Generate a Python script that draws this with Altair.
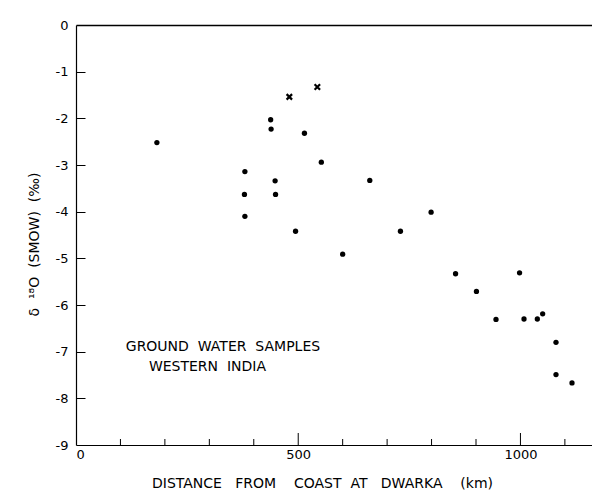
import altair as alt
import pandas as pd

# Groundwater samples (dots)
dist_dots = [182, 438, 439, 514, 380, 448, 379, 449, 380, 494, 552, 661, 799, 730,
             600, 854, 998, 901, 945, 1008, 1038, 1050, 1080, 1080, 1116]
d18o_dots = [-2.52, -2.03, -2.23, -2.32, -3.14, -3.34, -3.63, -3.63, -4.10, -4.42,
             -2.94, -3.33, -4.01, -4.42, -4.91, -5.33, -5.31, -5.71, -6.31, -6.30,
             -6.30, -6.19, -6.80, -7.49, -7.67]
# Crosses
dist_x = [480, 543]
d18o_x = [-1.54, -1.33]

x_minor_ticks = [100, 200, 300, 400, 600, 700, 800, 900, 1100]
x_major_ticks = [500, 1000]
x_labels = [0, 500, 1000]
y_ticks = [-8, -7, -6, -5, -4, -3, -2, -1]
y_labels = [0, -1, -2, -3, -4, -5, -6, -7, -8, -9]

S = "\u00a0"
note_lines = ["GROUND" + S + S + "WATER" + S + S + "SAMPLES", "WESTERN" + S + S + "INDIA"]
note_x = [112, 164]
note_y = [-6.90, -7.32]

X_TITLE = ("DISTANCE" + S * 3 + "FROM" + S * 4 + "COAST" + S * 2 + "AT" + S * 3
           + "DWARKA" + S * 4 + "(km)")
Y_TITLE = "\u03b4" + S * 2 + "\u00b9\u2078O" + S * 2 + "(SMOW)" + S * 2 + "(\u2030)"

FONT = "DejaVu Sans"
W, H = 516, 420
XMAX = 1161

xscale = alt.Scale(domain=[0, XMAX], nice=False, zero=False)
yscale = alt.Scale(domain=[-9, 0], nice=False, zero=False)

dots = pd.DataFrame({"d": dist_dots, "v": d18o_dots})
crosses = pd.DataFrame({"d": dist_x, "v": d18o_x})

base_x = alt.X("d:Q", scale=xscale,
               axis=alt.Axis(values=x_labels, format="d", tickSize=0, grid=False, labelPadding=3,
                             labelFont=FONT, labelFontSize=13, labelColor="black",
                             domainColor="black", domainWidth=1.2,
                             title=X_TITLE,
                             titleFont=FONT, titleFontSize=14, titleFontWeight="normal",
                             titleColor="black", titlePadding=15,
                             titleX=246, titleAlign="center"))
base_y = alt.Y("v:Q", scale=yscale,
               axis=alt.Axis(values=y_labels, tickSize=0, grid=False, labelPadding=8,
                             labelExpr="replace(datum.label, '\u2212', '-')",
                             labelFont=FONT, labelFontSize=13, labelColor="black",
                             domainColor="black", domainWidth=1.2,
                             title=Y_TITLE,
                             titleFont=FONT, titleFontSize=14, titleFontWeight="normal",
                             titleColor="black", titlePadding=14,
                             titleY=219, titleAlign="center"))

pts = alt.Chart(dots).mark_point(filled=True, shape="circle", size=28, color="black", opacity=1).encode(
    x=base_x, y=base_y)

# frame layer: top border (top x axis, domain only) and inward y ticks
# (right-oriented y axis moved onto the left edge, ticks pointing into the plot)
frame = alt.Chart(dots).mark_point(opacity=0).encode(
    x=alt.X("d:Q", scale=xscale,
            axis=alt.Axis(orient="top", labels=False, ticks=False, grid=False, title="",
                          domainColor="black", domainWidth=1.3)),
    y=alt.Y("v:Q", scale=yscale,
            axis=alt.Axis(orient="right", offset=-W, values=y_ticks, labels=False, domain=False,
                          tickSize=9, tickColor="black", tickWidth=1, grid=False, title="")),
)

NOAX_X = alt.X("d:Q", axis=None)
NOAX_Y = alt.Y("v:Q", axis=None)

xs = alt.Chart(crosses).mark_point(shape="M-1,-1L1,1M-1,1L1,-1", size=30, color="black",
                                   filled=False, strokeWidth=2.2, opacity=1).encode(x=NOAX_X, y=NOAX_Y)

minor = alt.Chart(pd.DataFrame({"d": x_minor_ticks})).mark_rule(color="black", strokeWidth=1).encode(
    x=NOAX_X, y=alt.value(H), y2=alt.value(H - 6))
major = alt.Chart(pd.DataFrame({"d": x_major_ticks})).mark_rule(color="black", strokeWidth=1).encode(
    x=NOAX_X, y=alt.value(H), y2=alt.value(H - 12))

note = alt.Chart(pd.DataFrame({"t": note_lines, "d": note_x, "v": note_y})).mark_text(
    align="left", baseline="middle", font=FONT, fontSize=14, color="black").encode(
    x=NOAX_X, y=NOAX_Y, text="t:N")

chart = alt.layer(pts, frame, xs, minor, major, note).resolve_axis(
    x="independent", y="independent"
).properties(
    width=W, height=H,
    autosize=alt.AutoSizeParams(type="none"),
    padding={"left": 68, "top": 17, "right": 0, "bottom": 48},
).configure_view(stroke=None)

chart.save("out.html", embed_options={"renderer": "svg", "actions": False})
